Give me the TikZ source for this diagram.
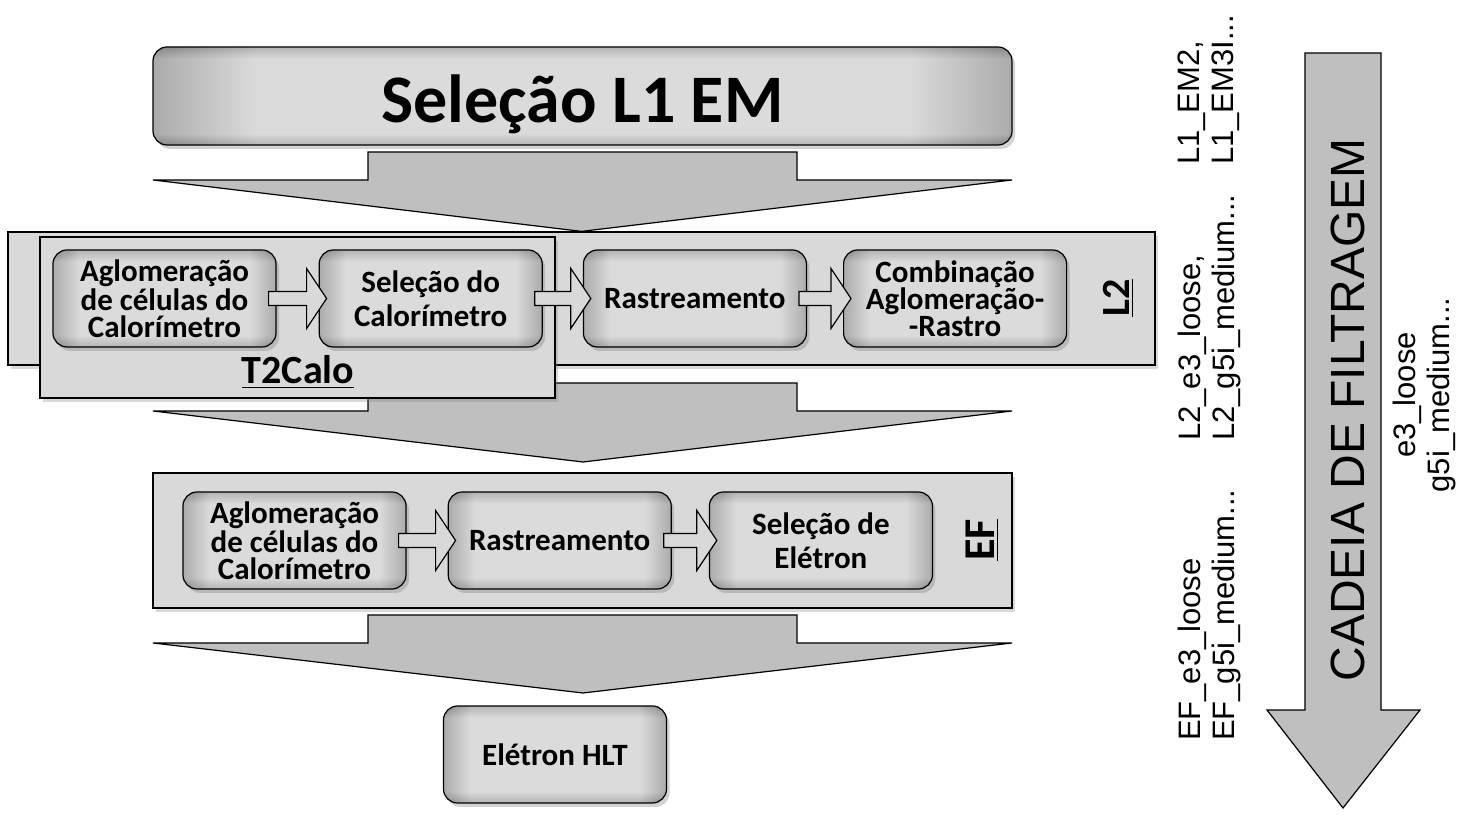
\documentclass[tikz,border=0pt]{standalone}
\usepackage{fontspec}
\setmainfont{Carlito}
\newfontfamily\arialfont{Liberation Sans}
\usetikzlibrary{positioning,calc,shadows,backgrounds}

\definecolor{boxedge}{gray}{0.52}
\definecolor{boxlight}{gray}{0.86}
\pgfdeclarehorizontalshading{bevelh}{100bp}{color(0bp)=(boxedge); color(25bp)=(boxedge);
  color(31bp)=(boxlight); color(69bp)=(boxlight); color(75bp)=(boxedge); color(100bp)=(boxedge)}
\pgfdeclareverticalshading{bevelv}{100bp}{color(0bp)=(boxedge); color(25bp)=(boxedge);
  color(31bp)=(boxlight); color(69bp)=(boxlight); color(75bp)=(boxedge); color(100bp)=(boxedge)}

% seta de bloco entre dois processos
\newcommand{\passarrow}[2]{%
  \draw[passarr] ($(#1.east)+(-8,-7)$) -- ($(#2.west)+(-12,-7)$) -- ($(#2.west)+(-12,-30)$)
    -- ($(#2.west)+(8,0)$) -- ($(#2.west)+(-12,30)$) -- ($(#2.west)+(-12,7)$)
    -- ($(#1.east)+(-8,7)$) -- cycle;}
% seta larga entre niveis
\newcommand{\stagearrow}[2]{%
  \draw[bigarr] (368,#1) -- (797,#1) -- (797,#1+28) -- (1012,#1+28) -- (#2)
    -- (153,#1+28) -- (368,#1+28) -- cycle;}

\begin{document}
\begin{tikzpicture}[x=0.5pt,y=-0.5pt,
  font=\fontsize{15.5}{13.5}\selectfont\bfseries,
  proc/.style={draw,line width=0.6pt,rounded corners=7pt,shading=bevelh,
    path picture={\shade[shading=bevelv,opacity=0.45] (path picture bounding box.south west)
      rectangle (path picture bounding box.north east);},
    minimum width=111.5pt,minimum height=48.5pt,align=center,inner sep=2pt,
    drop shadow={shadow xshift=1.5pt,shadow yshift=-2pt,opacity=0.35}},
  twoline/.style={font=\fontsize{15.5}{17}\selectfont\bfseries},
  stage/.style={draw,line width=0.6pt,fill=black!15,
    drop shadow={shadow xshift=1.5pt,shadow yshift=-2pt,opacity=0.3}},
  stagelbl/.style={font=\fontsize{20}{22}\selectfont\bfseries},
  bigarr/.style={draw,line width=0.6pt,fill=black!25,line join=miter},
  passarr/.style={draw,line width=0.6pt,fill=black!15,line join=miter},
  trig/.style={font=\fontsize{15.5}{17}\selectfont\mdseries\arialfont,rotate=90,align=left},
  node distance=20pt]
  \useasboundingbox (0,0) rectangle (1464,822);

  % L1
  \node[proc,minimum width=429.5pt,minimum height=49pt,text height=30pt,text depth=3pt,
    font=\fontsize{34}{36}\selectfont\bfseries] (l1) at (582.5,96) {Seleção L1 EM};

  % L2 e T2Calo
  \node[stage,minimum width=573.5pt,minimum height=66.5pt] (l2) at (581.5,298.5) {};
  \node[stage,minimum width=257.5pt,minimum height=80.5pt] (t2calo) at (297.5,317.5) {};
  \node[proc] (a1) at (164.5,298.5) {Aglomeração\\de células do\\Calorímetro};
  \node[proc,twoline,right=21pt of a1] (a2) {Seleção do\\Calorímetro};
  \node[proc,right=20pt of a2] (a3) {Rastreamento};
  \node[proc,right=18pt of a3] (a4) {Combinação\\Aglomeração-\\-Rastro};
  \node[stagelbl] (t2lbl) at (298,372) {\underline{T2Calo}};
  \node[stagelbl,rotate=90] (l2lbl) at (1118,298) {\underline{L2}};
  \passarrow{a1}{a2} \passarrow{a2}{a3} \passarrow{a3}{a4}

  % EF
  \node[stage,minimum width=429.5pt,minimum height=67.5pt] (ef) at (582.5,540.5) {};
  \node[proc] (b1) at (294.5,540.5) {Aglomeração\\de células do\\Calorímetro};
  \node[proc,right=20.5pt of b1] (b2) {Rastreamento};
  \node[proc,twoline,right=18.5pt of b2] (b3) {Seleção de\\Elétron};
  \node[stagelbl,rotate=90,font=\fontsize{22}{24}\selectfont\bfseries] (eflbl) at (982,540) {\underline{EF}};
  \passarrow{b1}{b2} \passarrow{b2}{b3}

  \node[proc] (hlt) at (555,754.5) {Elétron HLT};

  \coordinate (tip2) at (583,462);
  \coordinate (tip3) at (583,693);
  \begin{scope}[on background layer]
    \stagearrow{152}{l2.north}
    \stagearrow{383}{tip2}
    \stagearrow{615}{tip3}
  \end{scope}

  % cadeia de filtragem
  \draw[bigarr] (1305,53) -- (1381,53) -- (1381,710) -- (1420,710) -- (1343,808)
    -- (1267,710) -- (1305,710) -- cycle;
  \node[font=\fontsize{24}{26}\selectfont\mdseries\arialfont,rotate=90] (chain) at (1348,410) {CADEIA DE FILTRAGEM};
  \node[trig,anchor=west] (l1trig) at (1209,172) {L1\_EM2,\\L1\_EM3I...};
  \node[trig,anchor=west] (l2trig) at (1209,448) {L2\_e3\_loose,\\L2\_g5i\_medium...};
  \node[trig,anchor=west] (eftrig) at (1209,748) {EF\_e3\_loose\\EF\_g5i\_medium...};
  \node[trig,align=center] (hlttrig) at (1424,395) {e3\_loose\\g5i\_medium...};
\end{tikzpicture}
\end{document}
